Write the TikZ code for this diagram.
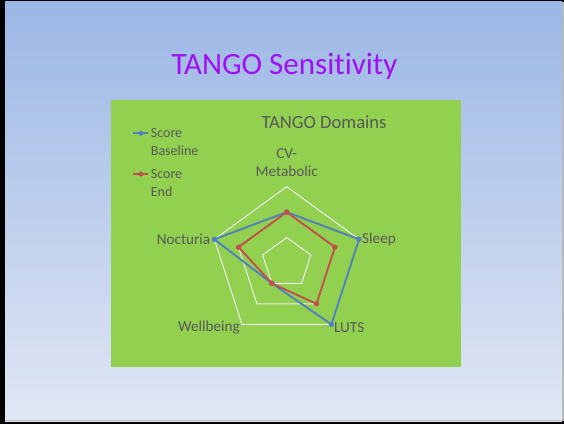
\documentclass[tikz,border=0pt]{standalone}
\usepackage{fontspec}
\setmainfont{Carlito}[Ligatures=NoCommon]
\usetikzlibrary{positioning}
\definecolor{slidetop}{HTML}{9BB7E5}
\definecolor{slidebot}{HTML}{E1E7F4}
\definecolor{chartgreen}{HTML}{92D050}
\definecolor{titlepurple}{HTML}{A010F0}
\definecolor{labelgrey}{HTML}{595959}
\definecolor{basblue}{HTML}{4F81BD}
\definecolor{endred}{HTML}{C0504D}

\begin{document}
\begin{tikzpicture}[x=1pt, y=1pt, every node/.style={text=labelgrey, inner sep=0pt},
        ring/.style={draw=white!85!gray, line width=1pt},
        series/.style={line width=1.9pt, line join=round},
        dot/.style={circle, fill=#1, minimum size=5.4pt, inner sep=0pt},
        axislabel/.style={font=\fontsize{15.2}{18.4}\selectfont},
        legendtext/.style={font=\fontsize{14}{17}\selectfont, anchor=base west}]
    \useasboundingbox (0,0) rectangle (564,424);
    % slide background and frame
    \fill[black] (0,0) rectangle (564,424);
    \shade[top color=slidetop, bottom color=slidebot] (5,3) rectangle (562,422);
    \fill[gray!55] (562,3) rectangle (564,422);
    \fill[gray!55] (5,3) rectangle (562,4.5);
    \node[text=titlepurple, font=\fontsize{31}{36}\selectfont, anchor=base] (title) at (284.5,349.7) {TANGO Sensitivity};
    % chart area
    \fill[chartgreen] (111,57) rectangle (461,324);
    \node[font=\fontsize{18.6}{22}\selectfont, anchor=base] (charttitle) at (324,295.7) {TANGO Domains};
    \coordinate (c) at (286.7,161.2);
    \foreach \r in {1,2,3}
        \draw[ring] ([shift={(c)}]90:{25.35*\r}) -- ([shift={(c)}]18:{25.35*\r}) -- ([shift={(c)}]-54:{25.35*\r})
            -- ([shift={(c)}]-126:{25.35*\r}) -- ([shift={(c)}]162:{25.35*\r}) -- cycle;
    \foreach \a/\n in {90/cv, 18/sl, -54/lu, -126/we, 162/no}
        \coordinate (ax-\n) at ([shift={(c)}]\a:76.05);
    % series
    \foreach \a/\v [count=\i] in {90/2, 18/3, -54/3, -126/1, 162/3}
        \coordinate (b\i) at ([shift={(c)}]\a:{25.35*\v});
    \foreach \a/\v [count=\i] in {90/2, 18/2, -54/2, -126/1, 162/2}
        \coordinate (e\i) at ([shift={(c)}]\a:{25.35*\v});
    \draw[series, basblue] (b1) -- (b2) -- (b3) -- (b4) -- (b5) -- cycle;
    \foreach \i in {1,...,5}
        \node[dot=basblue] (bd\i) at (b\i) {};
    \draw[series, endred] (e1) -- (e2) -- (e3) -- (e4) -- (e5) -- cycle;
    \foreach \i in {1,...,5}
        \node[dot=endred] (ed\i) at (e\i) {};
    % axis labels
    \node[axislabel, align=center, above=10pt of ax-cv] (lcv) {CV-\\Metabolic};
    \node[axislabel, right=3pt of ax-sl] (lsl) {Sleep};
    \node[axislabel, right=2.5pt of ax-lu, yshift=-3pt] (llu) {LUTS};
    \node[axislabel, left=2pt of ax-we, yshift=-3pt] (lwe) {Wellbeing};
    \node[axislabel, left=4pt of ax-no] (lno) {Nocturia};
    % legend
    \coordinate (lga) at (133.3,290.7);
    \coordinate (lgb) at (148.3,290.7);
    \draw[basblue, line width=1.9pt] (lga) -- (lgb);
    \node[dot=basblue, minimum size=5pt] (lgbd) at (140.8,290.7) {};
    \node[legendtext] (lgbs) at ([shift={(2.4,-4.6)}]lgb) {Score};
    \node[legendtext] (lgbt) at ([yshift=-17.4pt]lgbs.base west) {Baseline};
    \coordinate (lea) at (133.3,250);
    \coordinate (leb) at (148.3,250);
    \draw[endred, line width=1.9pt] (lea) -- (leb);
    \node[dot=endred, minimum size=5pt] (lebd) at (140.8,250) {};
    \node[legendtext] (les) at ([shift={(2.4,-4.6)}]leb) {Score};
    \node[legendtext] (let) at ([yshift=-17.4pt]les.base west) {End};
\end{tikzpicture}
\end{document}
